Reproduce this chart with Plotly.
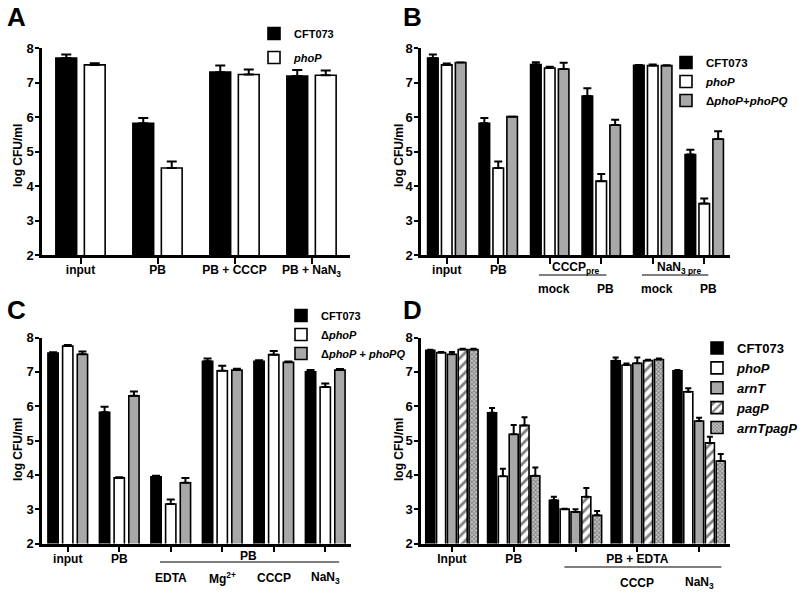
import plotly.graph_objects as go

# ---------------- data ----------------
# Panel A
catA = ["input", "PB", "PB + CCCP", "PB + NaN3"]
tickA = ["input", "PB", "PB + CCCP", "PB + NaN<sub>3</sub>"]
A_cft = [7.71, 5.82, 7.30, 7.19]
A_cft_err = [0.10, 0.15, 0.19, 0.17]
A_phoP = [7.51, 4.52, 7.23, 7.21]
A_phoP_err = [0.05, 0.19, 0.15, 0.14]

# Panel B
catB = ["input", "PB", "CCCP mock", "CCCP PB", "NaN3 mock", "NaN3 PB"]
tickB = ["input", "PB", "", "", "", ""]
B_cft = [7.71, 5.82, 7.52, 6.61, 7.50, 4.91]
B_cft_err = [0.10, 0.15, 0.07, 0.22, 0.01, 0.14]
B_phoP = [7.51, 4.52, 7.42, 4.14, 7.49, 3.49]
B_phoP_err = [0.04, 0.19, 0.04, 0.21, 0.03, 0.15]
B_comp = [7.58, 6.01, 7.39, 5.77, 7.49, 5.36]
B_comp_err = [0.0, 0.0, 0.18, 0.15, 0.01, 0.23]

# Panel C
catC = ["input", "PB", "PB EDTA", "PB Mg", "PB CCCP", "PB NaN3"]
tickC = ["input", "PB", "", "", "", ""]
C_cft = [7.55, 5.82, 3.94, 7.31, 7.31, 7.00]
C_cft_err = [0.02, 0.16, 0.03, 0.08, 0.03, 0.05]
C_phoP = [7.75, 3.91, 3.15, 7.03, 7.50, 6.56]
C_phoP_err = [0.03, 0.02, 0.13, 0.15, 0.11, 0.10]
C_comp = [7.51, 6.30, 3.77, 7.05, 7.28, 7.05]
C_comp_err = [0.08, 0.13, 0.14, 0.04, 0.02, 0.03]

# Panel D
catD = ["Input", "PB", "PB + EDTA", "PB + EDTA + CCCP", "PB + EDTA + NaN3"]
tickD = ["Input", "PB", "", "PB + EDTA", ""]
D_cft = [7.63, 5.81, 3.26, 7.32, 7.03]
D_cft_err = [0.01, 0.14, 0.10, 0.10, 0.02]
D_phoP = [7.56, 3.96, 3.00, 7.20, 6.42]
D_phoP_err = [0.02, 0.22, 0.01, 0.04, 0.10]
D_arnT = [7.51, 5.18, 2.92, 7.25, 5.57]
D_arnT_err = [0.07, 0.27, 0.08, 0.17, 0.09]
D_pagP = [7.65, 5.44, 3.36, 7.33, 4.93]
D_pagP_err = [0.02, 0.24, 0.26, 0.02, 0.18]
D_dbl = [7.65, 3.97, 2.82, 7.36, 4.40]
D_dbl_err = [0.02, 0.24, 0.13, 0.03, 0.21]

# ---------------- styling ----------------
FONT = "Liberation Sans, Arial, sans-serif"
BLACK = "#000000"
GRAY = "#a8a8a8"
WHITE = "#ffffff"

fig = go.Figure()


def add_bars(cats, series, xa, ya, legend, spacing, width, capw):
    n = len(series)
    for i, s in enumerate(series):
        off = (i - (n - 1) / 2) * spacing - width / 2
        marker = dict(color=s["color"], line=dict(color=BLACK, width=1.6))
        if "pattern" in s:
            marker["pattern"] = s["pattern"]
        fig.add_trace(go.Bar(
            x=cats, y=s["y"], name=s["name"], xaxis=xa, yaxis=ya,
            legend=legend, legendgroup=legend + str(i),
            offset=off, width=width, marker=marker,
            error_y=dict(type="data", symmetric=False, array=s["err"],
                         arrayminus=[0] * len(s["y"]), color=BLACK,
                         thickness=2, width=capw),
            showlegend=True,
        ))


add_bars(catA, [
    dict(y=A_cft, err=A_cft_err, name="CFT073", color=BLACK),
    dict(y=A_phoP, err=A_phoP_err, name="<i>phoP</i>", color=WHITE),
], "x", "y", "legend", 0.37, 0.27, 5)

add_bars(catB, [
    dict(y=B_cft, err=B_cft_err, name="CFT073", color=BLACK),
    dict(y=B_phoP, err=B_phoP_err, name="<i>phoP</i>", color=WHITE),
    dict(y=B_comp, err=B_comp_err, name="\u0394<i>phoP</i>+<i>phoPQ</i>", color=GRAY),
], "x2", "y2", "legend2", 0.27, 0.205, 4)

add_bars(catC, [
    dict(y=C_cft, err=C_cft_err, name="CFT073", color=BLACK),
    dict(y=C_phoP, err=C_phoP_err, name="\u0394<i>phoP</i>", color=WHITE),
    dict(y=C_comp, err=C_comp_err, name="\u0394<i>phoP</i> + <i>phoPQ</i>", color=GRAY),
], "x3", "y3", "legend3", 0.285, 0.2, 4)

add_bars(catD, [
    dict(y=D_cft, err=D_cft_err, name="CFT073", color=BLACK),
    dict(y=D_phoP, err=D_phoP_err, name="<i>phoP</i>", color=WHITE),
    dict(y=D_arnT, err=D_arnT_err, name="<i>arnT</i>", color=GRAY),
    dict(y=D_pagP, err=D_pagP_err, name="<i>pagP</i>", color=WHITE,
         pattern=dict(shape="/", fgcolor=BLACK, bgcolor=WHITE, size=7, solidity=0.4)),
    dict(y=D_dbl, err=D_dbl_err, name="<i>arnTpagP</i>", color="#c8c8c8",
         pattern=dict(shape="x", fgcolor="#333333", bgcolor="#c8c8c8", size=3, solidity=0.5)),
], "x4", "y4", "legend4", 0.175, 0.146, 3)


def xaxis(domain, anchor, cats, ticks):
    return dict(domain=domain, anchor=anchor, type="category",
                categoryorder="array", categoryarray=cats,
                tickmode="array", tickvals=cats, ticktext=ticks,
                range=[-0.5, len(cats) - 0.5],
                showline=True, linecolor=BLACK, linewidth=2.5,
                ticks="outside", ticklen=6, tickwidth=2, tickcolor=BLACK,
                ticklabelstandoff=-4,
                tickfont=dict(family=FONT, size=12, color=BLACK, weight="bold"),
                showgrid=False, zeroline=False, fixedrange=True, automargin=False)


def yaxis(domain, anchor):
    return dict(domain=domain, anchor=anchor, range=[2, 8], dtick=1, tick0=2,
                showline=True, linecolor=BLACK, linewidth=2.5,
                ticks="outside", ticklen=4, tickwidth=2, tickcolor=BLACK,
                ticklabelstandoff=-1,
                tickfont=dict(family=FONT, size=13, color=BLACK, weight="bold"),
                showgrid=False, zeroline=False, fixedrange=True, automargin=False)


W, H = 800, 592
yTop = [(H - 255) / H, (H - 48) / H]
yBot = [(H - 543.5) / H, (H - 337.5) / H]

fig.update_layout(
    width=W, height=H,
    margin=dict(l=0, r=0, t=0, b=0, autoexpand=False),
    paper_bgcolor="white", plot_bgcolor="white",
    barmode="overlay",
    font=dict(family=FONT, color=BLACK, weight="bold"),
    xaxis=xaxis([42 / W, 350 / W], "y", catA, tickA),
    yaxis=yaxis(yTop, "x"),
    xaxis2=xaxis([421 / W, 730 / W], "y2", catB, tickB),
    yaxis2=yaxis(yTop, "x2"),
    xaxis3=xaxis([42 / W, 351 / W], "y3", catC, tickC),
    yaxis3=yaxis(yBot, "x3"),
    xaxis4=xaxis([421 / W, 730 / W], "y4", catD, tickD),
    yaxis4=yaxis(yBot, "x4"),
    legend=dict(x=254 / W, y=(H - 19) / H, xanchor="left", yanchor="top",
                bgcolor="rgba(0,0,0,0)", tracegroupgap=5,
                font=dict(family=FONT, size=11, color=BLACK, weight="bold")),
    legend2=dict(x=666 / W, y=(H - 48) / H, xanchor="left", yanchor="top",
                 bgcolor="rgba(0,0,0,0)", tracegroupgap=0,
                 font=dict(family=FONT, size=11.5, color=BLACK, weight="bold")),
    legend3=dict(x=281 / W, y=(H - 301) / H, xanchor="left", yanchor="top",
                 bgcolor="rgba(0,0,0,0)", tracegroupgap=0,
                 font=dict(family=FONT, size=11, color=BLACK, weight="bold")),
    legend4=dict(x=697 / W, y=(H - 333) / H, xanchor="left", yanchor="top",
                 bgcolor="rgba(0,0,0,0)", tracegroupgap=0,
                 font=dict(family=FONT, size=13, color=BLACK, weight="bold")),
)

ann = []
# panel letters
for txt, x, y in [("A", 16, 17), ("B", 412, 17), ("C", 16, 310), ("D", 412, 310)]:
    ann.append(dict(text=txt, x=x / W, y=(H - y) / H, xref="paper", yref="paper",
                    xanchor="center", yanchor="middle", showarrow=False,
                    font=dict(family=FONT, size=26, color=BLACK, weight="bold")))

# y-axis titles
for x, y in [(18, 156), (399, 156), (18, 450), (399, 450)]:
    ann.append(dict(text="log CFU/ml", x=x / W, y=(H - y) / H, xref="paper",
                    yref="paper", xanchor="center", yanchor="middle",
                    textangle=-90, showarrow=False,
                    font=dict(family=FONT, size=12, color=BLACK, weight="bold")))


def lab(text, xref, x, ypx, size=12):
    ann.append(dict(text=text, x=x, y=(H - ypx) / H, xref=xref, yref="paper",
                    xanchor="center", yanchor="middle", showarrow=False,
                    font=dict(family=FONT, size=size, color=BLACK, weight="bold")))


# Panel B labels
lab("CCCP<sub>pre</sub>", "x2", 2.5, 268)
lab("NaN<sub>3 pre</sub>", "x2", 4.5, 268)
for i, t in [(2, "mock"), (3, "PB"), (4, "mock"), (5, "PB")]:
    lab(t, "x2", i + 0.08, 289)
# Panel C labels
lab("PB", "x3", 3.5, 556)
for i, t in [(2, "EDTA"), (3, "Mg<sup>2+</sup>"), (4, "CCCP"), (5, "NaN<sub>3</sub>")]:
    lab(t, "x3", i, 578)
# Panel D labels
for i, t in [(3, "CCCP"), (4, "NaN<sub>3</sub>")]:
    lab(t, "x4", i, 583)

fig.update_layout(annotations=ann)

shapes = []
for xref, x0, x1, ypx in [("x2", 1.79, 3.1, 275), ("x2", 3.79, 5.08, 275),
                          ("x3", 1.79, 5.27, 562), ("x4", 1.82, 4.36, 567)]:
    shapes.append(dict(type="line", xref=xref, yref="paper", x0=x0, x1=x1,
                       y0=(H - ypx) / H, y1=(H - ypx) / H,
                       line=dict(color=BLACK, width=1.2)))
fig.update_layout(shapes=shapes)

fig.write_html("out.html", config={"displayModeBar": False},
               post_script="document.body.style.margin='0px';")
